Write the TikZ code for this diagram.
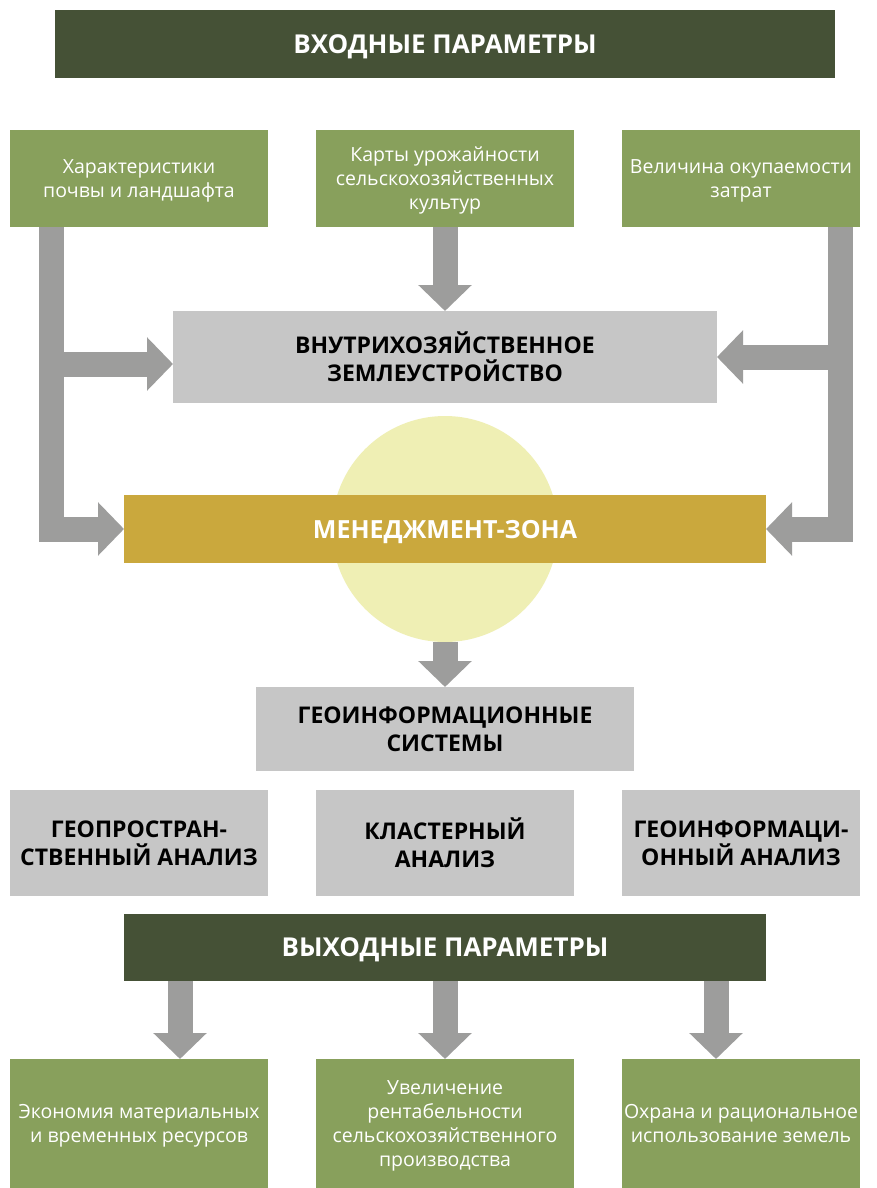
\documentclass[tikz,border=0pt]{standalone}
\usepackage{fontspec}
\setmainfont{Open Sans}
\usetikzlibrary{arrows.meta,calc}
\definecolor{dkgreen}{HTML}{455136}
\definecolor{ltgreen}{HTML}{88A05C}
\definecolor{boxgray}{HTML}{C6C6C6}
\definecolor{arrgray}{HTML}{9D9D9C}
\definecolor{gold}{HTML}{CAA83D}
\definecolor{pale}{HTML}{EFEFB4}
\begin{document}
\begin{tikzpicture}[x=1pt,y=-1pt,
  base/.style={anchor=north west, inner sep=0pt, outer sep=0pt, align=center},
  inbox/.style={base, fill=ltgreen, text=white, text depth=0pt, font=\fontsize{19.5}{24}\selectfont, minimum height=97pt},
  outbox/.style={base, fill=ltgreen, text=white, text depth=0pt, font=\fontsize{19.5}{24}\selectfont, minimum height=129pt},
  graybox/.style={base, fill=boxgray, text=black, font=\fontsize{23}{28}\selectfont\bfseries},
  headbox/.style={base, fill=dkgreen, text=white, text depth=0pt, font=\fontsize{26}{30}\selectfont\bfseries},
  blockarrow/.style={draw=arrgray, line width=25pt, line join=miter, line cap=butt,
    -{Triangle[width=52pt,length=26pt]}}
]
\useasboundingbox (0,0) rectangle (876,1188);
\fill[white] (0,0) rectangle (876,1188);

% header
\node[headbox, minimum width=780pt, minimum height=68pt] (hin) at (55,10) {ВХОДНЫЕ ПАРАМЕТРЫ};

% input boxes
\node[inbox, minimum width=258pt] (in1) at (10,130) {Характеристики\\почвы и ландшафта};
\node[inbox, minimum width=258pt] (in2) at (316,130) {Карты урожайности\\сельскохозяйственных\\культур};
\node[inbox, minimum width=238pt] (in3) at (622,130) {Величина окупаемости\\затрат};

% inner land management
\node[graybox, minimum width=544pt, minimum height=92pt] (vn) at (173,311) {ВНУТРИХОЗЯЙСТВЕННОЕ\\ЗЕМЛЕУСТРОЙСТВО};

% circle
\node[circle, fill=pale, inner sep=0pt, outer sep=0pt, minimum size=226pt] (circ) at (445,529) {};

% management zone
\node[headbox, fill=gold, font=\fontsize{25}{30}\selectfont\bfseries, minimum width=642pt, minimum height=68pt] (mz) at (124,495) {МЕНЕДЖМЕНТ-ЗОНА};

% GIS
\node[graybox, minimum width=378pt, minimum height=84pt] (gis) at (256,687) {ГЕОИНФОРМАЦИОННЫЕ\\СИСТЕМЫ};

% analyses
\node[graybox, minimum width=258pt, minimum height=106pt] (an1) at (10,790) {ГЕОПРОСТРАН-\\СТВЕННЫЙ АНАЛИЗ};
\node[graybox, minimum width=258pt, minimum height=106pt] (an2) at (316,790) {КЛАСТЕРНЫЙ\\АНАЛИЗ};
\node[graybox, minimum width=238pt, minimum height=106pt] (an3) at (622,790) {ГЕОИНФОРМАЦИ-\\ОННЫЙ АНАЛИЗ};

% output header
\node[headbox, minimum width=642pt, minimum height=67pt] (hout) at (124,914) {ВЫХОДНЫЕ ПАРАМЕТРЫ};

% output boxes
\node[outbox, minimum width=258pt] (o1) at (10,1059) {Экономия материальных\\и временных ресурсов};
\node[outbox, minimum width=258pt] (o2) at (316,1059) {Увеличение\\рентабельности\\сельскохозяйственного\\производства};
\node[outbox, minimum width=238pt] (o3) at (622,1059) {Охрана и рациональное\\использование земель};

% arrows: left input
\coordinate (lt) at ([xshift=-88pt]in1.south);
\coordinate (vnl) at ($(vn.west)+(0,7)$);
\draw[blockarrow] (lt) |- (mz.west);
\draw[blockarrow] (lt |- vnl) -- (vnl);
% right input
\coordinate (rt) at ([xshift=99.5pt]in3.south);
\draw[blockarrow] (rt) |- (mz.east);
\draw[blockarrow] (rt |- vn.east) -- (vn.east);
% middle input
\draw[blockarrow] (in2.south) -- (vn.north);
% circle to GIS
\draw[blockarrow] (circ.south) -- (gis.north);
% outputs
\coordinate (t1) at ($(o1.north)+(41,0)$);
\coordinate (t3) at ($(o3.north)+(-25,0)$);
\draw[blockarrow] (hout.south -| t1) -- (t1);
\draw[blockarrow] (hout.south -| o2.north) -- (o2.north);
\draw[blockarrow] (hout.south -| t3) -- (t3);
\end{tikzpicture}
\end{document}
